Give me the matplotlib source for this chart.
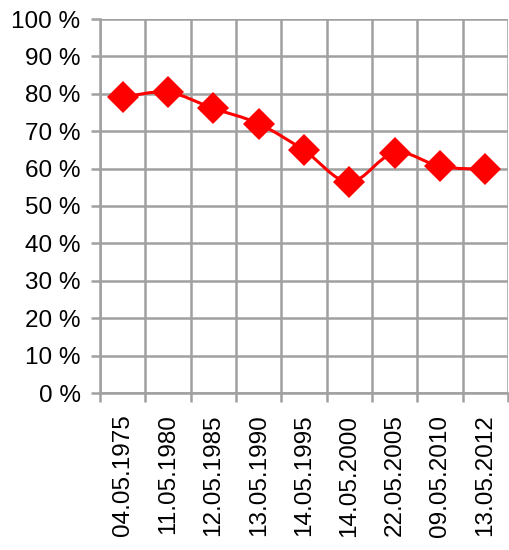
import matplotlib
matplotlib.use("Agg")
import matplotlib.pyplot as plt
import numpy as np
from matplotlib.path import Path
from matplotlib.patches import PathPatch
from matplotlib.ticker import FixedLocator, FuncFormatter

plt.rcParams['font.family'] = ['Liberation Sans', 'DejaVu Sans']

dates = ["04.05.1975", "11.05.1980", "12.05.1985", "13.05.1990", "14.05.1995",
         "14.05.2000", "22.05.2005", "09.05.2010", "13.05.2012"]
turnout = [79.1, 80.4, 76.1, 72.0, 64.9, 56.4, 64.3, 60.6, 59.8]

W, H = 509, 550
fig = plt.figure(figsize=(W / 100, H / 100), dpi=100)
left, right, top, bottom = 100, 508, 19, 393
ax = fig.add_axes([left / W, 1 - bottom / H, (right - left) / W, (bottom - top) / H])

grid_c = '#a0a0a0'
x = np.arange(len(dates), dtype=float)
y = np.array(turnout, dtype=float)

# Excel-like smoothed line (Catmull-Rom -> cubic Bezier)
verts = [(x[0], y[0])]
codes = [Path.MOVETO]
n = len(x)
for i in range(n - 1):
    p0 = np.array([x[max(i - 1, 0)], y[max(i - 1, 0)]])
    p1 = np.array([x[i], y[i]])
    p2 = np.array([x[i + 1], y[i + 1]])
    p3 = np.array([x[min(i + 2, n - 1)], y[min(i + 2, n - 1)]])
    c1 = p1 + (p2 - p0) / 6.0
    c2 = p2 - (p3 - p1) / 6.0
    verts += [tuple(c1), tuple(c2), tuple(p2)]
    codes += [Path.CURVE4] * 3
ax.add_patch(PathPatch(Path(verts, codes), facecolor='none', edgecolor='#ff0000',
                       lw=2.2, zorder=3, clip_on=False))
ax.plot(x, y, linestyle='none', marker='D', markersize=16.5, color='#ff0000',
        markeredgewidth=0, zorder=4, clip_on=False)

ax.set_xlim(-0.5, len(dates) - 0.5)
ax.set_ylim(0, 100)

ax.set_yticks(np.arange(0, 101, 10))
ax.yaxis.set_major_formatter(FuncFormatter(lambda v, p: f"{int(round(v))} %"))
ax.set_xticks(x)
ax.set_xticklabels(dates, rotation=90)
ax.xaxis.set_minor_locator(FixedLocator(np.arange(-0.5, len(dates), 1.0)))

ax.tick_params(axis='x', which='major', length=0, pad=15.5, labelsize=17.5)
ax.tick_params(axis='x', which='minor', length=6.5, width=1.8, color=grid_c, direction='out')
ax.tick_params(axis='y', which='major', length=6.5, width=1.8, color=grid_c,
               labelsize=17.5, pad=7.5)

ax.grid(True, which='minor', axis='x', color=grid_c, lw=1.8)
ax.grid(True, which='major', axis='y', color=grid_c, lw=1.8)
ax.grid(False, which='major', axis='x')

for s in ['top', 'right']:
    ax.spines[s].set_visible(False)
for s in ['left', 'bottom']:
    ax.spines[s].set_color(grid_c)
    ax.spines[s].set_linewidth(1.8)
ax.set_axisbelow(True)

fig.savefig('out.png', dpi=100)
